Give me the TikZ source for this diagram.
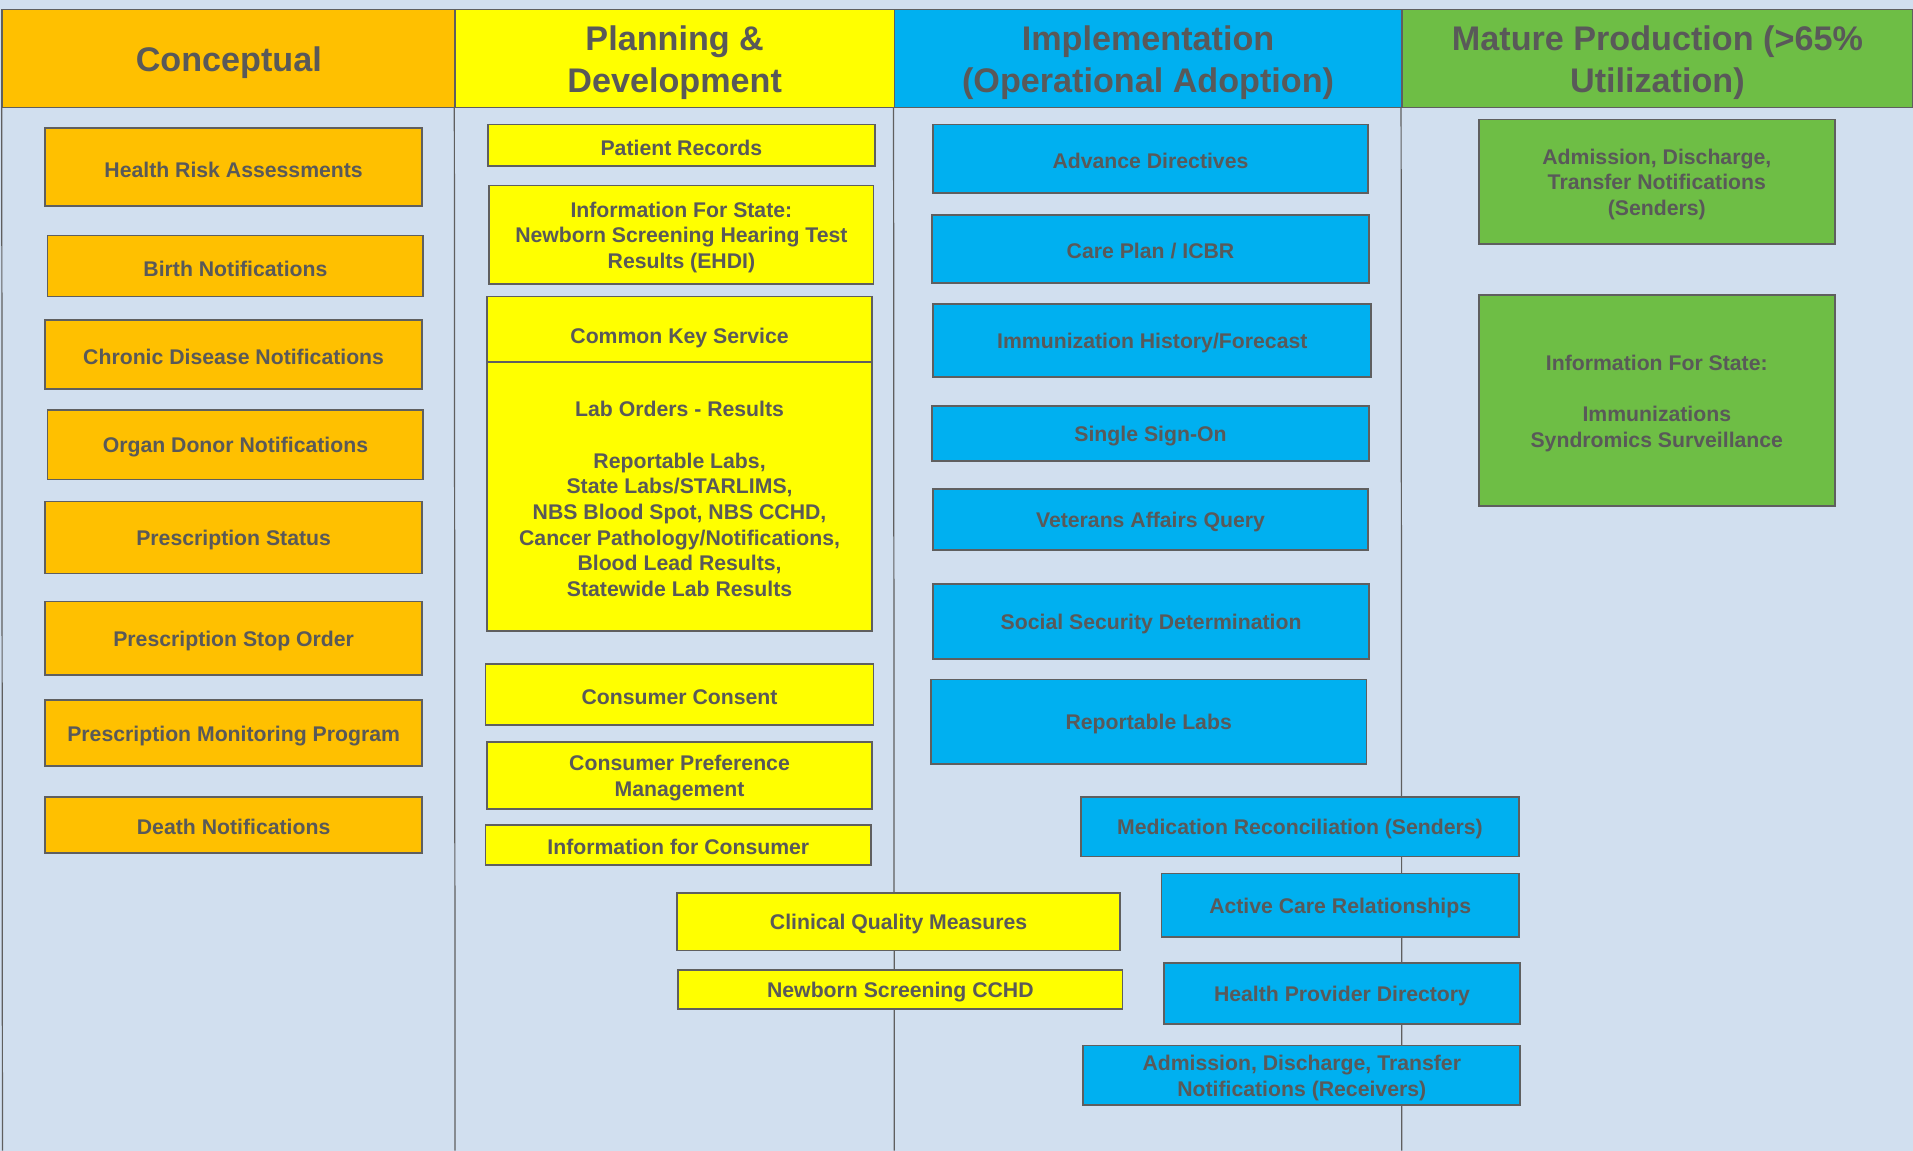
\documentclass[tikz,border=0pt]{standalone}
\usepackage{fontspec}
\setmainfont{Liberation Sans}

\definecolor{bgBlue}{RGB}{209,223,239}
\definecolor{concOrange}{RGB}{255,192,0}
\definecolor{planYellow}{RGB}{255,255,0}
\definecolor{implBlue}{RGB}{0,176,240}
\definecolor{matGreen}{RGB}{110,190,69}
\definecolor{txtGray}{RGB}{89,89,89}
\definecolor{edgeGray}{RGB}{95,95,95}

% taller first line, so the text sits a little lower in its box
\newcommand{\firstln}{\rule{0pt}{0.96em}}

\tikzset{every picture/.style={line width=1.5pt}}
\tikzset{
  itembox/.style={draw=edgeGray, line width=1.5pt, inner sep=0pt, align=center, text=txtGray,
    font=\fontsize{17.4}{21}\selectfont\bfseries, execute at begin node={\firstln}},
  headbox/.style={itembox, line width=1.2pt, font=\fontsize{28}{34}\selectfont\bfseries},
  conc/.style={itembox, fill=concOrange},
  plan/.style={itembox, fill=planYellow},
  impl/.style={itembox, fill=implBlue},
  matr/.style={itembox, fill=matGreen},
  colline/.style={draw=edgeGray, line width=1pt}
}

\begin{document}
\begin{tikzpicture}[x=1pt,y=1pt,yscale=-1,xscale=1]
%set diagram to 1568 x 943
\fill[bgBlue] (0,0) rectangle (1568,943);
\useasboundingbox (0,0) rectangle (1568,943);

%Headers
\node[headbox, fill=concOrange, minimum width=371, minimum height=80] (hconc) at (187.5,48) {Conceptual};
\node[headbox, fill=planYellow, minimum width=360, minimum height=80] (hplan) at (553,48) {\firstln Planning \&\\Development};
\node[headbox, fill=implBlue, minimum width=416, minimum height=80] (himpl) at (941,48) {\firstln Implementation\\(Operational Adoption)};
\node[headbox, fill=matGreen, minimum width=419, minimum height=80] (hmatr) at (1358.5,48) {\firstln Mature Production (>65\%\\Utilization)};

%Column lines
\coordinate (bconc) at (2,943);
\coordinate (bplan) at (373,943);
\coordinate (bimpl) at (733,943);
\coordinate (bmatr) at (1149,943);
\draw[colline] (hconc.north west) -- (bconc);
\draw[colline] (hplan.south west) -- (bplan);
\draw[colline] (himpl.south west) -- (bimpl);
\draw[colline] (hmatr.south west) -- (bmatr);

%Conceptual
\node[conc, minimum width=309, minimum height=64] (hra) at (191.5,137) {Health Risk Assessments};
\node[conc, minimum width=308, minimum height=50] (birth) at (193,218) {Birth Notifications};
\node[conc, minimum width=309, minimum height=57] (chronic) at (191.5,290.5) {Chronic Disease Notifications};
\node[conc, minimum width=308, minimum height=57] (organ) at (193,364.5) {Organ Donor Notifications};
\node[conc, minimum width=309, minimum height=59] (rxstatus) at (191.5,440.5) {Prescription Status};
\node[conc, minimum width=309, minimum height=60] (rxstop) at (191.5,523) {Prescription Stop Order};
\node[conc, minimum width=309, minimum height=54] (pmp) at (191.5,601) {Prescription Monitoring Program};
\node[conc, minimum width=309, minimum height=46] (death) at (191.5,676) {Death Notifications};

%Planning & Development
\node[plan, minimum width=317, minimum height=34] (patrec) at (558.5,119) {Patient Records};
\node[plan, minimum width=315, minimum height=81] (ehdi) at (558.5,192.5) {\firstln Information For State:\\Newborn Screening Hearing Test\\Results (EHDI)};
\node[plan, minimum width=316, minimum height=54] (cks) at (557,270) {\rule{0pt}{27pt}Common Key Service};
\node[plan, minimum width=316, minimum height=220] (labord) at (557,407) {\firstln Lab Orders - Results\\~\\Reportable Labs,\\State Labs/STARLIMS,\\NBS Blood Spot, NBS CCHD,\\Cancer Pathology/Notifications,\\Blood Lead Results,\\Statewide Lab Results};
\node[plan, minimum width=318, minimum height=50] (consent) at (557,569) {Consumer Consent};
\node[plan, minimum width=316, minimum height=55] (cpm) at (557,635.5) {\firstln Consumer Preference\\Management};
\node[plan, minimum width=316, minimum height=33] (info4c) at (556,692.5) {Information for Consumer};
\node[plan, minimum width=363, minimum height=47] (cqm) at (736.5,755.5) {Clinical Quality Measures};
\node[plan, minimum width=364, minimum height=32] (cchd) at (738,811) {Newborn Screening CCHD};

%Implementation
\node[impl, minimum width=356, minimum height=56] (advdir) at (943,130) {Advance Directives};
\node[impl, minimum width=358, minimum height=56] (careplan) at (943,204) {Care Plan / ICBR};
\node[impl, minimum width=359, minimum height=60] (immhist) at (944.5,279) {Immunization History/Forecast};
\node[impl, minimum width=358, minimum height=45] (sso) at (943,355.5) {Single Sign-On};
\node[impl, minimum width=356, minimum height=50] (vaq) at (943,426) {Veterans Affairs Query};
\node[impl, minimum width=357, minimum height=61] (ssd) at (943.5,509.5) {Social Security Determination};
\node[impl, minimum width=357, minimum height=69] (replabs) at (941.5,591.5) {Reportable Labs};
\node[impl, minimum width=359, minimum height=49] (medrec) at (1065.5,677.5) {Medication Reconciliation (Senders)};
\node[impl, minimum width=293, minimum height=52] (acr) at (1098.5,742) {Active Care Relationships};
\node[impl, minimum width=292, minimum height=50] (hpd) at (1100,814) {Health Provider Directory};
\node[impl, minimum width=358, minimum height=49] (adtrecv) at (1067,881.5) {\firstln Admission, Discharge, Transfer\\Notifications (Receivers)};

%Mature Production
\node[matr, minimum width=292, minimum height=102] (adtsend) at (1358,149) {\firstln Admission, Discharge,\\Transfer Notifications\\(Senders)};
\node[matr, minimum width=292, minimum height=173] (infost) at (1358,328.5) {\firstln Information For State:\\~\\Immunizations\\Syndromics Surveillance};
\end{tikzpicture}
\end{document}
